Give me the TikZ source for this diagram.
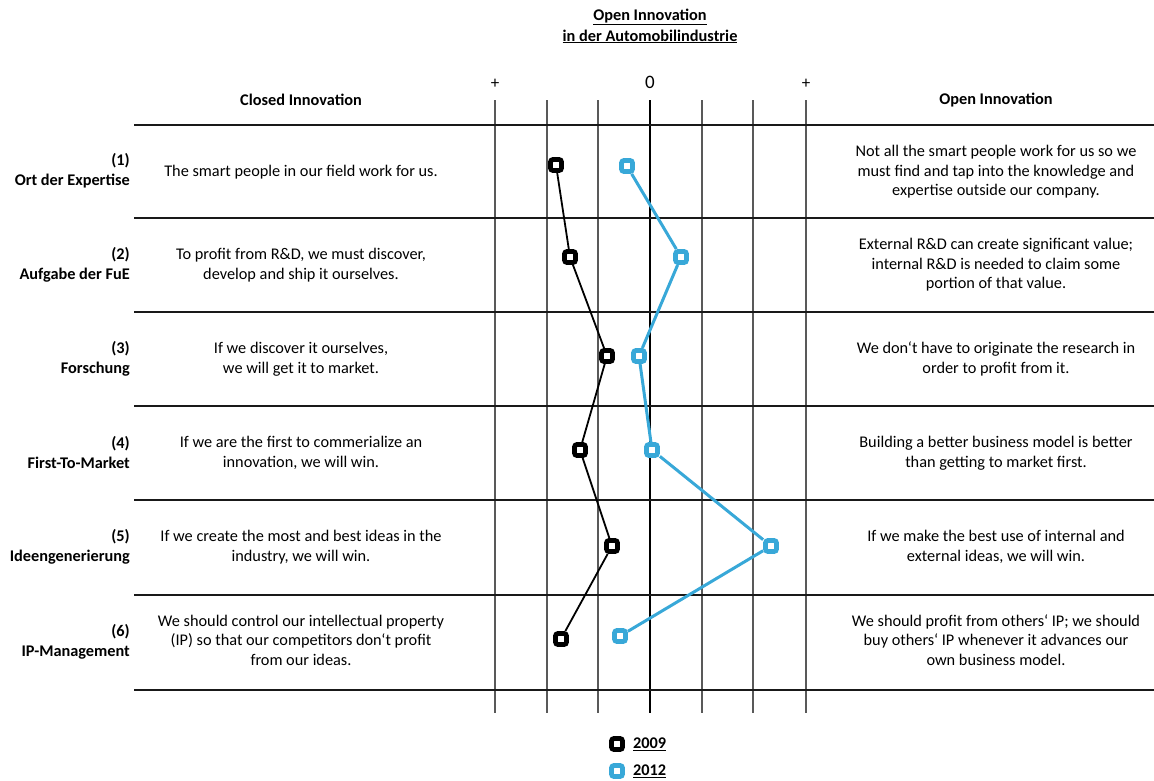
\documentclass[tikz,border=0pt]{standalone}
\usepackage{fontspec}
\setmainfont{Carlito}
\begin{document}
\begin{tikzpicture}[x=1pt,y=-1pt,
  txt/.style={font=\fontsize{16.3}{19.6}\selectfont, align=center, inner sep=0pt},
  rowlabel/.style={font=\fontsize{16.3}{20}\selectfont\bfseries, align=right, anchor=east, inner sep=0pt},
  head/.style={font=\fontsize{16.3}{19}\selectfont\bfseries, inner sep=0pt},
  hline/.style={line width=2.2pt, black!90},
  vline/.style={line width=1.4pt, black!65},
  zline/.style={line width=2.4pt, black},
  mk09/.style={draw=black, line width=4.8pt, fill=white, rounded corners=2.5pt, minimum size=11pt, inner sep=0pt},
  mk12/.style={draw=blueline, line width=4.8pt, fill=white, rounded corners=2.5pt, minimum size=11pt, inner sep=0pt},
  link09/.style={line width=1.8pt, black},
  link12/.style={line width=3pt, blueline}]
\definecolor{blueline}{RGB}{56,168,216}
\useasboundingbox (0,0) rectangle (1154,780);

% title
\node[head, align=center, font=\fontsize{16.3}{21}\selectfont\bfseries] (title) at (650,26)
  {\underline{Open Innovation}\\\underline{in der Automobilindustrie}};

% scale marks
\node[font=\fontsize{17}{17}\selectfont] (pl) at (495,84) {+};
\node[font=\fontsize{19}{19}\selectfont] (zero) at (650,82) {0};
\node[font=\fontsize{17}{17}\selectfont] (pr) at (806,84) {+};

% column heads
\node[head] (hclosed) at (301,100) {Closed Innovation};
\node[head] (hopen) at (996,100) {Open Innovation};

% vertical scale lines
\foreach \x in {495,547,598,702,753,806} \draw[vline] (\x,100) -- (\x,713);
\draw[zline] (650,100) -- (650,713);

% horizontal row separators
\foreach \y in {125,218,312,406,500,595,690} \draw[hline] (134,\y) -- (1154,\y);

% row labels
\node[rowlabel] (l1) at (130,171) {(1)\\Ort der Expertise};
\node[rowlabel] (l2) at (130,265) {(2)\\Aufgabe der FuE};
\node[rowlabel] (l3) at (130,359) {(3)\\Forschung};
\node[rowlabel] (l4) at (130,453) {(4)\\First-To-Market};
\node[rowlabel] (l5) at (130,547) {(5)\\Ideengenerierung};
\node[rowlabel] (l6) at (130,642) {(6)\\IP-Management};

% closed innovation statements
\node[txt] (c1) at (301,172) {The smart people in our field work for us.};
\node[txt] (c2) at (301,265) {To profit from R\&D, we must discover,\\develop and ship it ourselves.};
\node[txt] (c3) at (301,359) {If we discover it ourselves,\\we will get it to market.};
\node[txt] (c4) at (301,453) {If we are the first to commerialize an\\innovation, we will win.};
\node[txt] (c5) at (301,547) {If we create the most and best ideas in the\\industry, we will win.};
\node[txt] (c6) at (301,640) {We should control our intellectual property\\(IP) so that our competitors don‘t profit\\from our ideas.};

% open innovation statements
\node[txt] (o1) at (996,172) {Not all the smart people work for us so we\\must find and tap into the knowledge and\\expertise outside our company.};
\node[txt] (o2) at (996,265) {External R\&D can create significant value;\\internal R\&D is needed to claim some\\portion of that value.};
\node[txt] (o3) at (996,359) {We don‘t have to originate the research in\\order to profit from it.};
\node[txt] (o4) at (996,453) {Building a better business model is better\\than getting to market first.};
\node[txt] (o5) at (996,547) {If we make the best use of internal and\\external ideas, we will win.};
\node[txt] (o6) at (996,640) {We should profit from others‘ IP; we should\\buy others‘ IP whenever it advances our\\own business model.};

% 2009 ratings
\node[mk09] (a1) at (556,165) {};
\node[mk09] (a2) at (570,257) {};
\node[mk09] (a3) at (607,356) {};
\node[mk09] (a4) at (580,450) {};
\node[mk09] (a5) at (612,546) {};
\node[mk09] (a6) at (561,639) {};

% 2012 ratings
\node[mk12] (b1) at (627,166) {};
\node[mk12] (b2) at (681,257) {};
\node[mk12] (b3) at (639,356) {};
\node[mk12] (b4) at (652,450) {};
\node[mk12] (b5) at (771,546) {};
\node[mk12] (b6) at (620,636) {};

\draw[link09] (a1) -- (a2) -- (a3) -- (a4) -- (a5) -- (a6);
\draw[link12] (b1) -- (b2) -- (b3) -- (b4) -- (b5) -- (b6);

% legend
\node[mk09] (k09) at (617,744) {};
\node[mk12] (k12) at (617,771) {};
\node[head, anchor=west] (t09) at (633,744) {\underline{2009}};
\node[head, anchor=west] (t12) at (633,771) {\underline{2012}};
\end{tikzpicture}
\end{document}
